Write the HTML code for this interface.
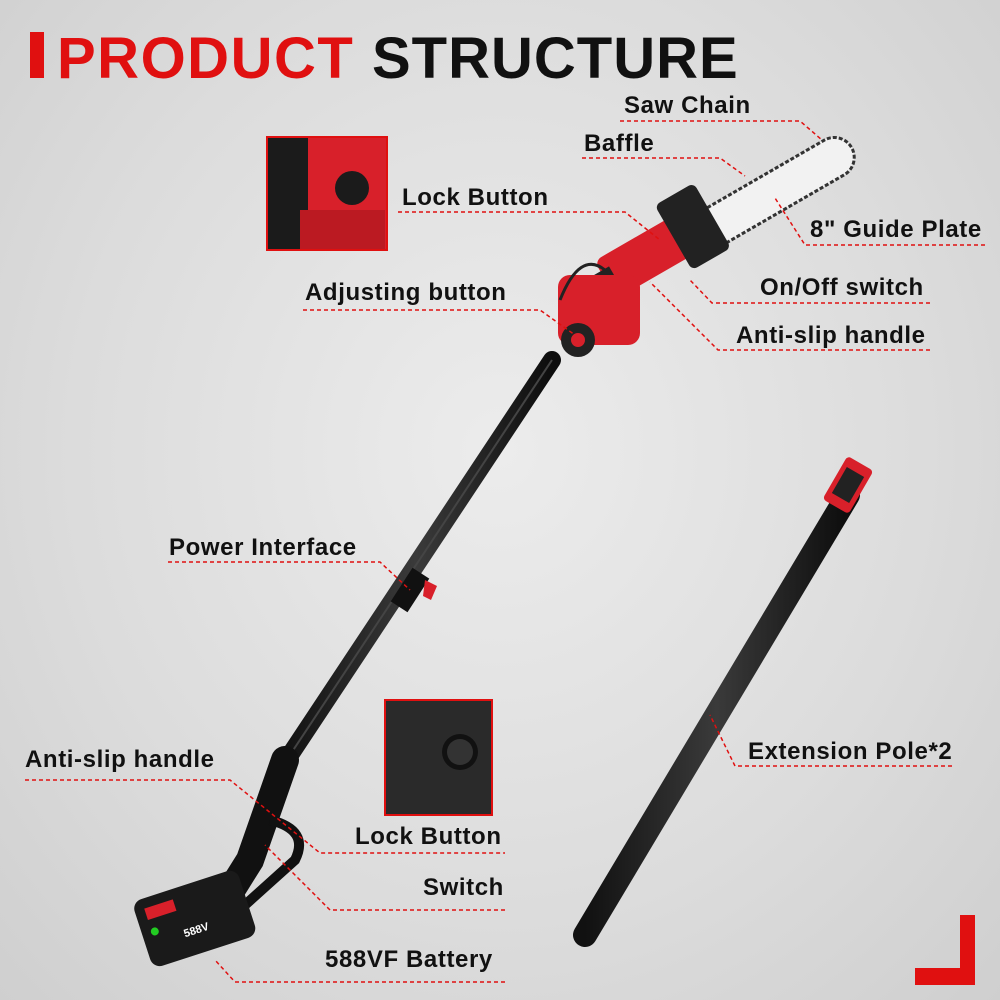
<!DOCTYPE html>
<html><head><meta charset="utf-8"><style>
html,body{margin:0;padding:0}
body{width:1000px;height:1000px;overflow:hidden;background:radial-gradient(ellipse at 50% 45%,#ececec 0%,#dcdcdc 60%,#cfcfcf 100%);font-family:"Liberation Sans",sans-serif}
svg{position:absolute;left:0;top:0}
</style></head><body>
<svg width="1000" height="1000" viewBox="0 0 1000 1000">
<defs><linearGradient id="pole" x1="0" y1="0" x2="1" y2="0"><stop offset="0" stop-color="#111"/><stop offset=".5" stop-color="#3a3a3a"/><stop offset="1" stop-color="#0d0d0d"/></linearGradient></defs>
<rect x="30" y="32" width="14" height="46" fill="#e01010"/>
<text x="57" y="78" font-size="58" font-weight="bold" fill="#e01010" letter-spacing="1.5">PRODUCT</text>
<text x="372" y="78" font-size="58" font-weight="bold" fill="#111" letter-spacing="1">STRUCTURE</text>

<g transform="translate(700,235) rotate(-30)">
<rect x="0" y="-20" width="175" height="40" rx="20" fill="#f2f2f2" stroke="#333" stroke-width="3" stroke-dasharray="4 2"/>
</g>
<g transform="translate(640,260) rotate(-30)">
<rect x="-40" y="-22" width="110" height="44" rx="8" fill="#d8202a"/>
<rect x="40" y="-40" width="45" height="75" rx="6" fill="#222"/>
<rect x="-70" y="-10" width="40" height="22" fill="#222"/>
</g>
<rect x="558" y="275" width="82" height="70" rx="12" fill="#d8202a"/>
<circle cx="578" cy="340" r="17" fill="#222"/>
<circle cx="578" cy="340" r="7" fill="#d8202a"/>
<path d="M560 300 Q580 250 605 270" stroke="#222" stroke-width="3" fill="none"/>
<line x1="552" y1="360" x2="280" y2="770" stroke="url(#pole)" stroke-width="18" stroke-linecap="round"/>
<line x1="552" y1="360" x2="280" y2="770" stroke="#444" stroke-width="2"/>
<rect x="400" y="570" width="20" height="40" fill="#111" transform="rotate(33 410 590)"/>
<path d="M425 580 l12 6 l-6 14 l-8 -4z" fill="#d8202a"/>
<path d="M285 760 L250 860 L225 900" stroke="#111" stroke-width="28" fill="none" stroke-linecap="round"/>
<path d="M270 820 Q310 830 295 860 L245 905" stroke="#111" stroke-width="10" fill="none"/>
<g transform="rotate(-18 190 920)">
<rect x="140" y="885" width="110" height="70" rx="10" fill="#1a1a1a"/>
<rect x="150" y="895" width="30" height="12" fill="#d8202a"/>
<circle cx="153" cy="920" r="4" fill="#2c2"/>
<text x="180" y="935" font-size="11" fill="#fff" font-weight="bold">588V</text>
</g>
<line x1="848" y1="495" x2="585" y2="935" stroke="url(#pole)" stroke-width="24" stroke-linecap="round"/>
<g transform="rotate(30 848 485)"><rect x="833" y="460" width="30" height="50" rx="4" fill="#d8202a"/><rect x="838" y="470" width="20" height="30" fill="#222"/></g>

<rect x="267" y="137" width="120" height="113" fill="#d8202a" stroke="#e01010" stroke-width="2"/>
<rect x="268" y="138" width="40" height="111" fill="#1b1b1b"/>
<path d="M300 210 L385 210 L385 249 L300 249z" fill="#bb1a22"/>
<circle cx="352" cy="188" r="17" fill="#1b1b1b"/>
<rect x="385" y="700" width="107" height="115" fill="#2a2a2a" stroke="#e01010" stroke-width="2"/>
<circle cx="460" cy="752" r="18" fill="#111"/>
<circle cx="460" cy="752" r="13" fill="#333"/>

<path d="M960 915 L975 915 L975 985 L915 985 L915 968 L960 968z" fill="#e01010"/>

<g stroke="#e01010" stroke-width="1.5" stroke-dasharray="4 3" fill="none">
<path d="M620 121 L800 121 L822 140"/>
<path d="M582 158 L720 158 L745 176"/>
<path d="M398 212 L625 212 L660 240"/>
<path d="M985 245 L805 245 L775 198"/>
<path d="M930 303 L712 303 L690 280"/>
<path d="M930 350 L718 350 L650 282"/>
<path d="M303 310 L540 310 L575 335"/>
<path d="M168 562 L380 562 L410 590"/>
<path d="M952 766 L735 766 L710 715"/>
<path d="M25 780 L230 780 L320 853 L505 853"/>
<path d="M505 910 L330 910 L265 845"/>
<path d="M505 982 L235 982 L215 960"/>
</g>
<g font-size="24" font-weight="bold" fill="#111" letter-spacing="0.6">
<text x="624" y="113">Saw Chain</text>
<text x="584" y="151">Baffle</text>
<text x="402" y="205">Lock Button</text>
<text x="810" y="237">8" Guide Plate</text>
<text x="760" y="295">On/Off switch</text>
<text x="736" y="343">Anti-slip handle</text>
<text x="305" y="300">Adjusting button</text>
<text x="169" y="555">Power Interface</text>
<text x="748" y="759">Extension Pole*2</text>
<text x="25" y="767">Anti-slip handle</text>
<text x="355" y="844">Lock Button</text>
<text x="423" y="895">Switch</text>
<text x="325" y="967">588VF Battery</text>
</g>
</svg>
</body></html>
